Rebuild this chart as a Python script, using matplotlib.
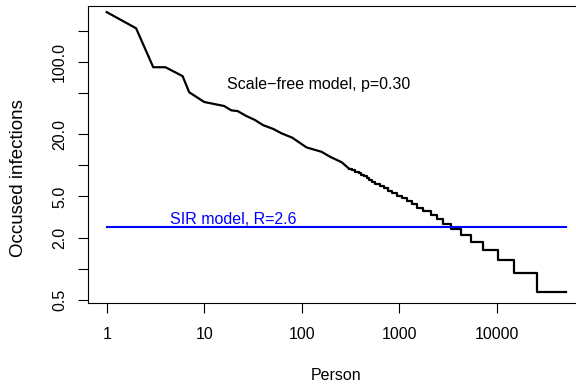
#!/usr/bin/env python3

import matplotlib
matplotlib.use('Agg')
import matplotlib.pyplot as plt

plt.rcParams['font.family'] = ['Liberation Sans', 'DejaVu Sans']
plt.rcParams['font.size'] = 11.5

# head of the ranked curve: (person rank, occurred infections)
head_rank = [1, 2, 3, 4, 6, 7, 8, 10, 13, 16, 19, 22, 27, 33, 40, 51, 62, 80,
             112, 160, 195, 257]
head_value = [304, 212, 89, 89, 73, 51, 47, 41, 39, 37.5, 34, 33.5, 30, 27.5,
              24.5, 22.5, 20.4, 18.5, 14.9, 13.5, 12.1, 10.7]

# tail: each level starts at the given rank (steps of p=0.30 per infection)
tail_rank = [305, 330, 355, 385, 410, 440, 465, 495, 522, 570, 630,
             700, 760, 840, 940, 1060, 1190, 1340, 1520, 1760, 2100, 2420,
             2800, 3400, 4270, 5450, 7290, 10300, 15150, 25700, 51300]
tail_value = [9.3, 9.0, 8.7, 8.4, 8.1, 7.8, 7.5, 7.2, 6.9, 6.6, 6.3,
              6.0, 5.7, 5.4, 5.1, 4.8, 4.5, 4.2, 3.9, 3.6, 3.3, 3.0,
              2.7, 2.4, 2.1, 1.8, 1.5, 1.2, 0.9, 0.6, 0.6]

sir_value = 2.55
sir_range = [1, 51300]

x_ticks = [1, 10, 100, 1000, 10000]
y_ticks = [0.5, 1, 2, 5, 10, 20, 50, 100, 200]
y_labels = ['0.5', '', '2.0', '5.0', '', '20.0', '', '100.0', '']


def main():
    fig = plt.figure(figsize=(5.76, 3.85), dpi=100)
    ax = fig.add_axes([88.3 / 576, 82 / 385, (584.4 - 88.3) / 576, (303 - 5.7) / 385])
    ax.set_xscale('log')
    ax.set_yscale('log')

    ax.plot(head_rank + [tail_rank[0]], head_value + [tail_value[0]], color='black', lw=1.6)
    ax.step(tail_rank, tail_value, where='post', color='black', lw=1.6)
    ax.plot(sir_range, [sir_value, sir_value], color='#0000ff', lw=1.5)

    ax.text(150, 60, 'Scale\u2212free model, p=0.30', ha='center', va='center')
    ax.text(20, 3, 'SIR model, R=2.6', ha='center', va='center', color='#0000ff')

    ax.set_xlim(10 ** -0.189, 10 ** 4.899)
    ax.set_ylim(10 ** -0.333, 10 ** 2.545)

    ax.minorticks_off()
    ax.set_xticks(x_ticks)
    ax.set_xticklabels([str(t) for t in x_ticks])
    ax.set_yticks(y_ticks)
    ax.set_yticklabels(y_labels, rotation=90, va='center')
    ax.tick_params(direction='out', length=7.2, width=0.8)
    ax.tick_params(axis='x', pad=10)
    ax.tick_params(axis='y', pad=8)

    for spine in ax.spines.values():
        spine.set_linewidth(0.8)

    ax.set_xlabel('Person', labelpad=19)
    # y label sits lower than the box centre in the reference
    fig.text(19 / 576, 1 - 178 / 385, 'Occused infections', rotation=90,
             ha='center', va='center', fontsize=13.5)

    fig.savefig('out.png', dpi=100)


if __name__ == '__main__':
    main()
